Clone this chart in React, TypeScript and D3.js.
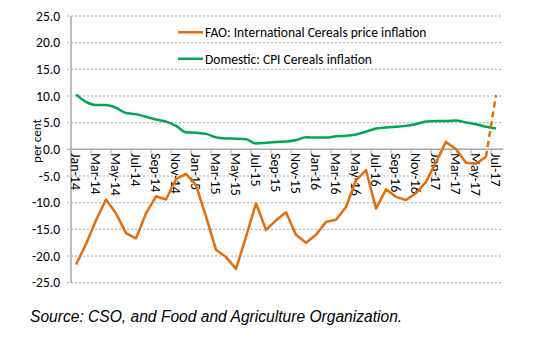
import React from "react";
import * as d3 from "d3";

const months = [
  "Jan-14","Feb-14","Mar-14","Apr-14","May-14","Jun-14","Jul-14","Aug-14","Sep-14","Oct-14","Nov-14","Dec-14",
  "Jan-15","Feb-15","Mar-15","Apr-15","May-15","Jun-15","Jul-15","Aug-15","Sep-15","Oct-15","Nov-15","Dec-15",
  "Jan-16","Feb-16","Mar-16","Apr-16","May-16","Jun-16","Jul-16","Aug-16","Sep-16","Oct-16","Nov-16","Dec-16",
  "Jan-17","Feb-17","Mar-17","Apr-17","May-17","Jun-17","Jul-17",
];

const faoValues = [
  -21.6, -17.8, -13.3, -9.4, -12.0, -15.7, -16.7, -12.0, -8.8, -9.4, -5.6, -4.6,
  -6.7, -12.6, -18.8, -20.2, -22.4, -16.4, -10.1, -15.1, -13.3, -11.8, -16.0, -17.5,
  -16.0, -13.6, -13.2, -10.8, -5.8, -3.9, -11.1, -7.5, -8.9, -9.5, -8.2, -6.1,
  -2.4, 1.4, 0.0, -2.5, -2.7, -1.4, 10.2,
];

const cpiValues = [
  10.3, 8.9, 8.3, 8.3, 7.8, 6.8, 6.6, 6.1, 5.6, 5.2, 4.4, 3.2,
  3.1, 2.9, 2.25, 2.05, 2.0, 1.9, 1.1, 1.25, 1.4, 1.45, 1.75, 2.25,
  2.2, 2.2, 2.45, 2.55, 2.8, 3.3, 3.9, 4.1, 4.25, 4.4, 4.75, 5.2,
  5.3, 5.3, 5.4, 5.05, 4.7, 4.25, 3.9,
];

const yTicks = [25, 20, 15, 10, 5, 0, -5, -10, -15, -20, -25];
const seriesNames = ["FAO: International Cereals price inflation", "Domestic: CPI Cereals inflation"];
const sourceText = "Source: CSO, and Food and Agriculture Organization.";

const ORANGE = "#E46C0A";
const GREEN = "#00A651";
const FONT = "Carlito, Lato, 'Open Sans', sans-serif";

export default function App() {
  const left = 71, right = 501, top = 16, bottom = 282.7;
  const x = d3.scaleBand<string>().domain(months).range([left, right]);
  const cx = (m: string) => (x(m) as number) + x.bandwidth() / 2;
  const y = d3.scaleLinear().domain([-25, 25]).range([bottom, top]);

  const faoPts = faoValues.map((v, i) => ({ m: months[i], v }));
  const cpiPts = cpiValues.map((v, i) => ({ m: months[i], v }));
  const lineLin = d3.line<{ m: string; v: number }>().x(d => cx(d.m)).y(d => y(d.v));
  const lineSmooth = d3.line<{ m: string; v: number }>().x(d => cx(d.m)).y(d => y(d.v)).curve(d3.curveMonotoneX);

  const n = faoPts.length;
  const faoSolid = lineLin(faoPts.slice(0, n - 1)) || "";
  const faoDashed = lineLin(faoPts.slice(n - 2)) || "";

  const tickBoundaries = months.map((m, i) => i).filter(i => i % 2 === 0).map(i => x(months[i]) as number);

  return (
    <svg width={539} height={357} style={{ position: "absolute", left: 0, top: 0, background: "#fff" }}>
      <rect width={539} height={357} fill="#fff" />
      {yTicks.filter(t => t !== 0).map(t => (
        <line key={t} x1={left - 4} x2={right + 2} y1={y(t)} y2={y(t)} stroke="#a6a6a6" strokeWidth={1} strokeDasharray="2,2" />
      ))}
      <line x1={left} x2={left} y1={top} y2={bottom} stroke="#a6a6a6" strokeWidth={1.5} />
      <line x1={left - 4} x2={left} y1={y(0)} y2={y(0)} stroke="#a6a6a6" strokeWidth={1} />
      <line x1={left} x2={right + 2} y1={y(0)} y2={y(0)} stroke="#a6a6a6" strokeWidth={1.5} />
      {tickBoundaries.map((bx, i) => (
        <line key={i} x1={bx} x2={bx} y1={y(0)} y2={y(0) + 4} stroke="#a6a6a6" strokeWidth={1} />
      ))}
      {yTicks.map(t => (
        <text key={t} x={60} y={y(t)} dy="0.35em" textAnchor="end" fontFamily={FONT} fontSize={13.5} fill="#000">
          {t.toFixed(1)}
        </text>
      ))}
      <text transform={`translate(41,141) rotate(-90)`} textAnchor="middle" fontFamily={FONT} fontSize={13} fill="#000">
        per cent
      </text>
      {months.filter((m, i) => i % 2 === 0).map(m => (
        <text key={m} transform={`translate(${cx(m)},153) rotate(90)`} dy="0.35em" textAnchor="start" fontFamily={FONT} fontSize={14} fill="#000">
          {m}
        </text>
      ))}
      <path d={lineSmooth(cpiPts) || ""} fill="none" stroke={GREEN} strokeWidth={2.5} strokeLinejoin="round" />
      <path d={faoSolid} fill="none" stroke={ORANGE} strokeWidth={2.5} strokeLinejoin="round" />
      <path d={faoDashed} fill="none" stroke={ORANGE} strokeWidth={2.5} strokeDasharray="6,4" />
      {seriesNames.map((s, i) => (
        <g key={s}>
          <line x1={178} x2={203} y1={32.3 + i * 26.5} y2={32.3 + i * 26.5} stroke={i === 0 ? ORANGE : GREEN} strokeWidth={2.5} />
          <text x={205} y={32.3 + i * 26.5} dy="0.35em" fontFamily={FONT} fontSize={13.5} fill="#000">{s}</text>
        </g>
      ))}
      <text x={30} y={322} fontFamily="'Liberation Sans', Arial, sans-serif" fontStyle="italic" fontSize={15.6} fill="#000">
        {sourceText}
      </text>
    </svg>
  );
}
